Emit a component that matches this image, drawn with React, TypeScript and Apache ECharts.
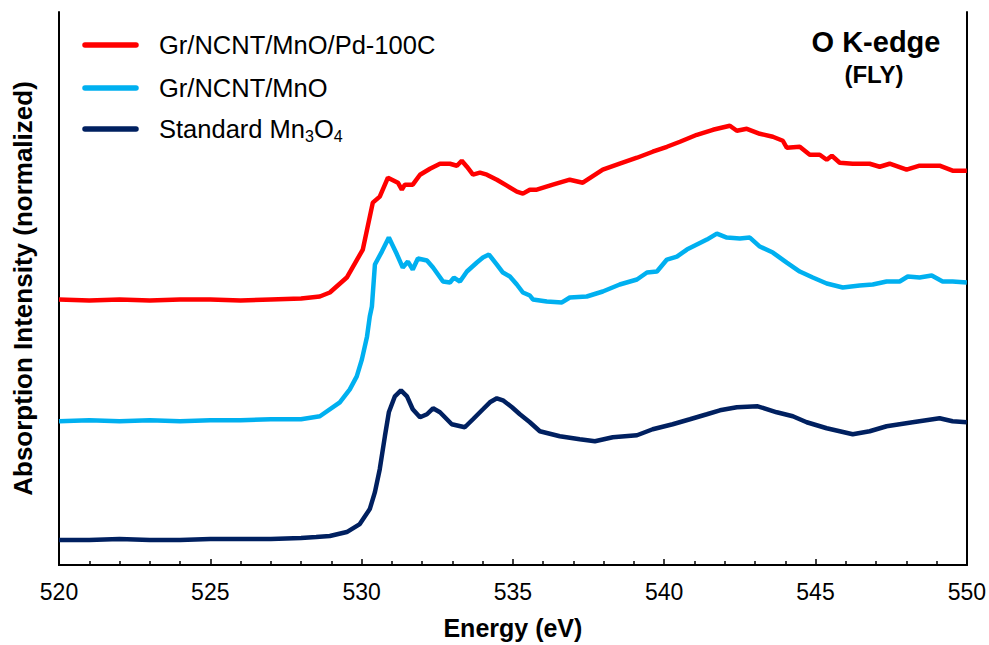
import React, { useEffect, useRef } from "react";
import * as echarts from "echarts";

const redE = [520, 521, 522, 523, 524, 525, 526, 527, 528, 528.62, 528.95, 529.51, 530.04, 530.37, 530.6, 530.87, 531.2, 531.33, 531.43, 531.69, 531.93, 532.26, 532.59, 532.92, 533.15, 533.31, 533.48, 533.68, 533.91, 534.14, 534.47, 534.8, 535.13, 535.33, 535.56, 535.79, 536.32, 536.88, 537.31, 537.97, 538.53, 539.1, 539.62, 540.09, 540.52, 541.08, 541.61, 542.17, 542.4, 542.73, 543.16, 543.59, 543.92, 544.05, 544.48, 544.81, 545.14, 545.37, 545.54, 545.8, 546.23, 546.79, 547.12, 547.45, 548.01, 548.44, 549.1, 549.53, 550];
const redI = [2.66, 2.65, 2.66, 2.65, 2.66, 2.66, 2.65, 2.66, 2.67, 2.69, 2.73, 2.88, 3.16, 3.63, 3.69, 3.88, 3.83, 3.76, 3.81, 3.81, 3.91, 3.97, 4.02, 4.02, 4.0, 4.05, 3.99, 3.91, 3.93, 3.91, 3.86, 3.8, 3.74, 3.72, 3.76, 3.76, 3.81, 3.86, 3.83, 3.96, 4.02, 4.08, 4.14, 4.19, 4.24, 4.31, 4.36, 4.4, 4.35, 4.37, 4.32, 4.29, 4.25, 4.18, 4.19, 4.11, 4.11, 4.06, 4.1, 4.03, 4.02, 4.02, 3.99, 4.02, 3.96, 4.0, 4.0, 3.95, 3.95];

const cyanE = [520, 521, 522, 523, 524, 525, 526, 527, 528, 528.62, 529.28, 529.61, 529.84, 530.01, 530.18, 530.27, 530.34, 530.44, 530.67, 530.9, 531.17, 531.36, 531.53, 531.69, 531.86, 532.16, 532.36, 532.69, 532.92, 533.05, 533.25, 533.48, 533.81, 534.01, 534.21, 534.47, 534.67, 534.9, 535.13, 535.33, 535.56, 535.66, 536.12, 536.62, 536.88, 537.44, 537.97, 538.53, 539.1, 539.43, 539.76, 540.09, 540.42, 540.75, 541.08, 541.41, 541.74, 542.07, 542.5, 542.83, 543.16, 543.59, 544.05, 544.48, 544.91, 545.37, 545.9, 546.46, 546.89, 547.35, 547.78, 548.05, 548.44, 548.84, 549.2, 549.53, 550];
const cyanI = [1.44, 1.45, 1.44, 1.45, 1.44, 1.45, 1.45, 1.46, 1.46, 1.49, 1.63, 1.76, 1.89, 2.06, 2.29, 2.49, 2.59, 3.01, 3.14, 3.28, 3.11, 2.98, 3.04, 2.96, 3.07, 3.05, 2.98, 2.84, 2.83, 2.88, 2.84, 2.94, 3.03, 3.08, 3.11, 3.01, 2.93, 2.89, 2.81, 2.73, 2.7, 2.66, 2.64, 2.63, 2.68, 2.69, 2.74, 2.81, 2.86, 2.93, 2.94, 3.06, 3.09, 3.16, 3.21, 3.26, 3.32, 3.28, 3.27, 3.28, 3.19, 3.13, 3.03, 2.94, 2.88, 2.82, 2.78, 2.8, 2.81, 2.84, 2.84, 2.89, 2.88, 2.9, 2.84, 2.84, 2.83];

const darkE = [520, 521, 522, 523, 524, 525, 526, 527, 528, 528.5, 528.95, 529.51, 529.94, 530.27, 530.44, 530.6, 530.77, 530.9, 531.1, 531.3, 531.5, 531.69, 531.93, 532.16, 532.36, 532.59, 532.98, 533.41, 533.68, 534.01, 534.24, 534.47, 534.67, 534.97, 535.23, 535.56, 535.89, 536.55, 537.21, 537.71, 538.3, 539.1, 539.62, 540.28, 540.85, 541.41, 541.84, 542.4, 543.09, 543.72, 544.25, 544.71, 545.37, 546.23, 546.79, 547.35, 548.21, 549.1, 549.53, 550];
const darkI = [0.25, 0.25, 0.26, 0.25, 0.25, 0.26, 0.26, 0.26, 0.27, 0.28, 0.29, 0.33, 0.41, 0.56, 0.73, 0.96, 1.29, 1.53, 1.69, 1.75, 1.69, 1.56, 1.48, 1.51, 1.57, 1.53, 1.41, 1.38, 1.46, 1.56, 1.63, 1.67, 1.65, 1.58, 1.51, 1.43, 1.34, 1.29, 1.26, 1.24, 1.28, 1.3, 1.36, 1.41, 1.46, 1.51, 1.55, 1.58, 1.59, 1.53, 1.49, 1.43, 1.37, 1.31, 1.34, 1.39, 1.43, 1.47, 1.44, 1.43];

const seriesNames = ["Gr/NCNT/MnO/Pd-100C", "Gr/NCNT/MnO", "Standard Mn3O4"];
const seriesColors = ["#FF0000", "#00B0F0", "#002060"];
const xTicks = [520, 525, 530, 535, 540, 545, 550];

const zip = (e: number[], v: number[]) => e.map((x, i) => [x, v[i]]);

export default function App() {
  const ref = useRef<HTMLDivElement>(null);
  useEffect(() => {
    if (!ref.current) return;
    const chart = echarts.init(ref.current, null, { renderer: "svg" });
    const font = "Arial, 'Liberation Sans', sans-serif";
    const legendY = [45, 88, 129];
    const legendGraphics: any[] = [];
    seriesNames.forEach((n, i) => {
      legendGraphics.push({
        type: "line",
        shape: { x1: 85, y1: legendY[i], x2: 136, y2: legendY[i] },
        style: { stroke: seriesColors[i], lineWidth: 5.5, lineCap: "round" },
      });
      const txt = i === 2 ? "{a|Standard Mn}{s|3}{a|O}{s|4}" : "{a|" + n + "}";
      legendGraphics.push({
        type: "text",
        x: 159,
        y: legendY[i],
        style: {
          text: txt,
          verticalAlign: "middle",
          rich: {
            a: { fontSize: 25.5, fontFamily: font, fill: "#000" },
            s: { fontSize: 16, fontFamily: font, fill: "#000", padding: [14, 0, 0, 0] },
          },
        },
      });
    });
    const option: any = {
      animation: false,
      backgroundColor: "#fff",
      grid: { left: 59, right: 22, top: 12, bottom: 79, show: false },
      xAxis: [
        {
          type: "value",
          min: 520,
          max: 550,
          interval: 5,
          name: "Energy (eV)",
          nameLocation: "middle",
          nameGap: 50,
          nameTextStyle: { fontSize: 25, fontWeight: "bold", fontFamily: font, color: "#000" },
          axisLine: { lineStyle: { color: "#000", width: 2 } },
          axisTick: { inside: true, length: 6, lineStyle: { color: "#000", width: 1.5 } },
          minorTick: { show: true, splitNumber: 5, length: 4, lineStyle: { color: "#000", width: 1.5 } },
          axisLabel: {
            fontSize: 23,
            fontFamily: font,
            color: "#000",
            margin: 15,
            formatter: (v: number) => (xTicks.includes(v) ? String(v) : ""),
          },
          splitLine: { show: false },
        },
        {
          type: "value",
          position: "top",
          min: 520,
          max: 550,
          axisLine: { show: true, lineStyle: { color: "#000", width: 2 } },
          axisTick: { show: false },
          axisLabel: { show: false },
          splitLine: { show: false },
        },
      ],
      yAxis: [
        {
          type: "value",
          min: 0,
          max: 5.54,
          name: "Absorption Intensity (normalized)",
          nameLocation: "middle",
          nameGap: 23,
          nameTextStyle: { fontSize: 26, fontWeight: "bold", fontFamily: font, color: "#000" },
          axisLine: { show: true, lineStyle: { color: "#000", width: 2 } },
          axisTick: { show: false },
          axisLabel: { show: false },
          splitLine: { show: false },
        },
        {
          type: "value",
          position: "right",
          min: 0,
          max: 5.54,
          axisLine: { show: true, lineStyle: { color: "#000", width: 2 } },
          axisTick: { show: false },
          axisLabel: { show: false },
          splitLine: { show: false },
        },
      ],
      series: [
        { name: seriesNames[0], data: zip(redE, redI), color: seriesColors[0] },
        { name: seriesNames[1], data: zip(cyanE, cyanI), color: seriesColors[1] },
        { name: seriesNames[2], data: zip(darkE, darkI), color: seriesColors[2] },
      ].map((s) => ({
        type: "line",
        name: s.name,
        data: s.data,
        showSymbol: false,
        symbol: "none",
        lineStyle: { color: s.color, width: 4.5 },
        itemStyle: { color: s.color },
      })),
      graphic: [
        ...legendGraphics,
        {
          type: "text",
          x: 876,
          y: 42,
          style: {
            text: "O K-edge",
            fontSize: 29,
            fontWeight: "bold",
            fontFamily: font,
            fill: "#000",
            align: "center",
            verticalAlign: "middle",
          },
        },
        {
          type: "text",
          x: 874,
          y: 74,
          style: {
            text: "(FLY)",
            fontSize: 24,
            fontWeight: "bold",
            fontFamily: font,
            fill: "#000",
            align: "center",
            verticalAlign: "middle",
          },
        },
      ],
    };
    chart.setOption(option);
    return () => chart.dispose();
  }, []);
  return (
    <div
      ref={ref}
      style={{ position: "fixed", left: 0, top: 0, width: 989, height: 645, background: "#fff" }}
    />
  );
}
